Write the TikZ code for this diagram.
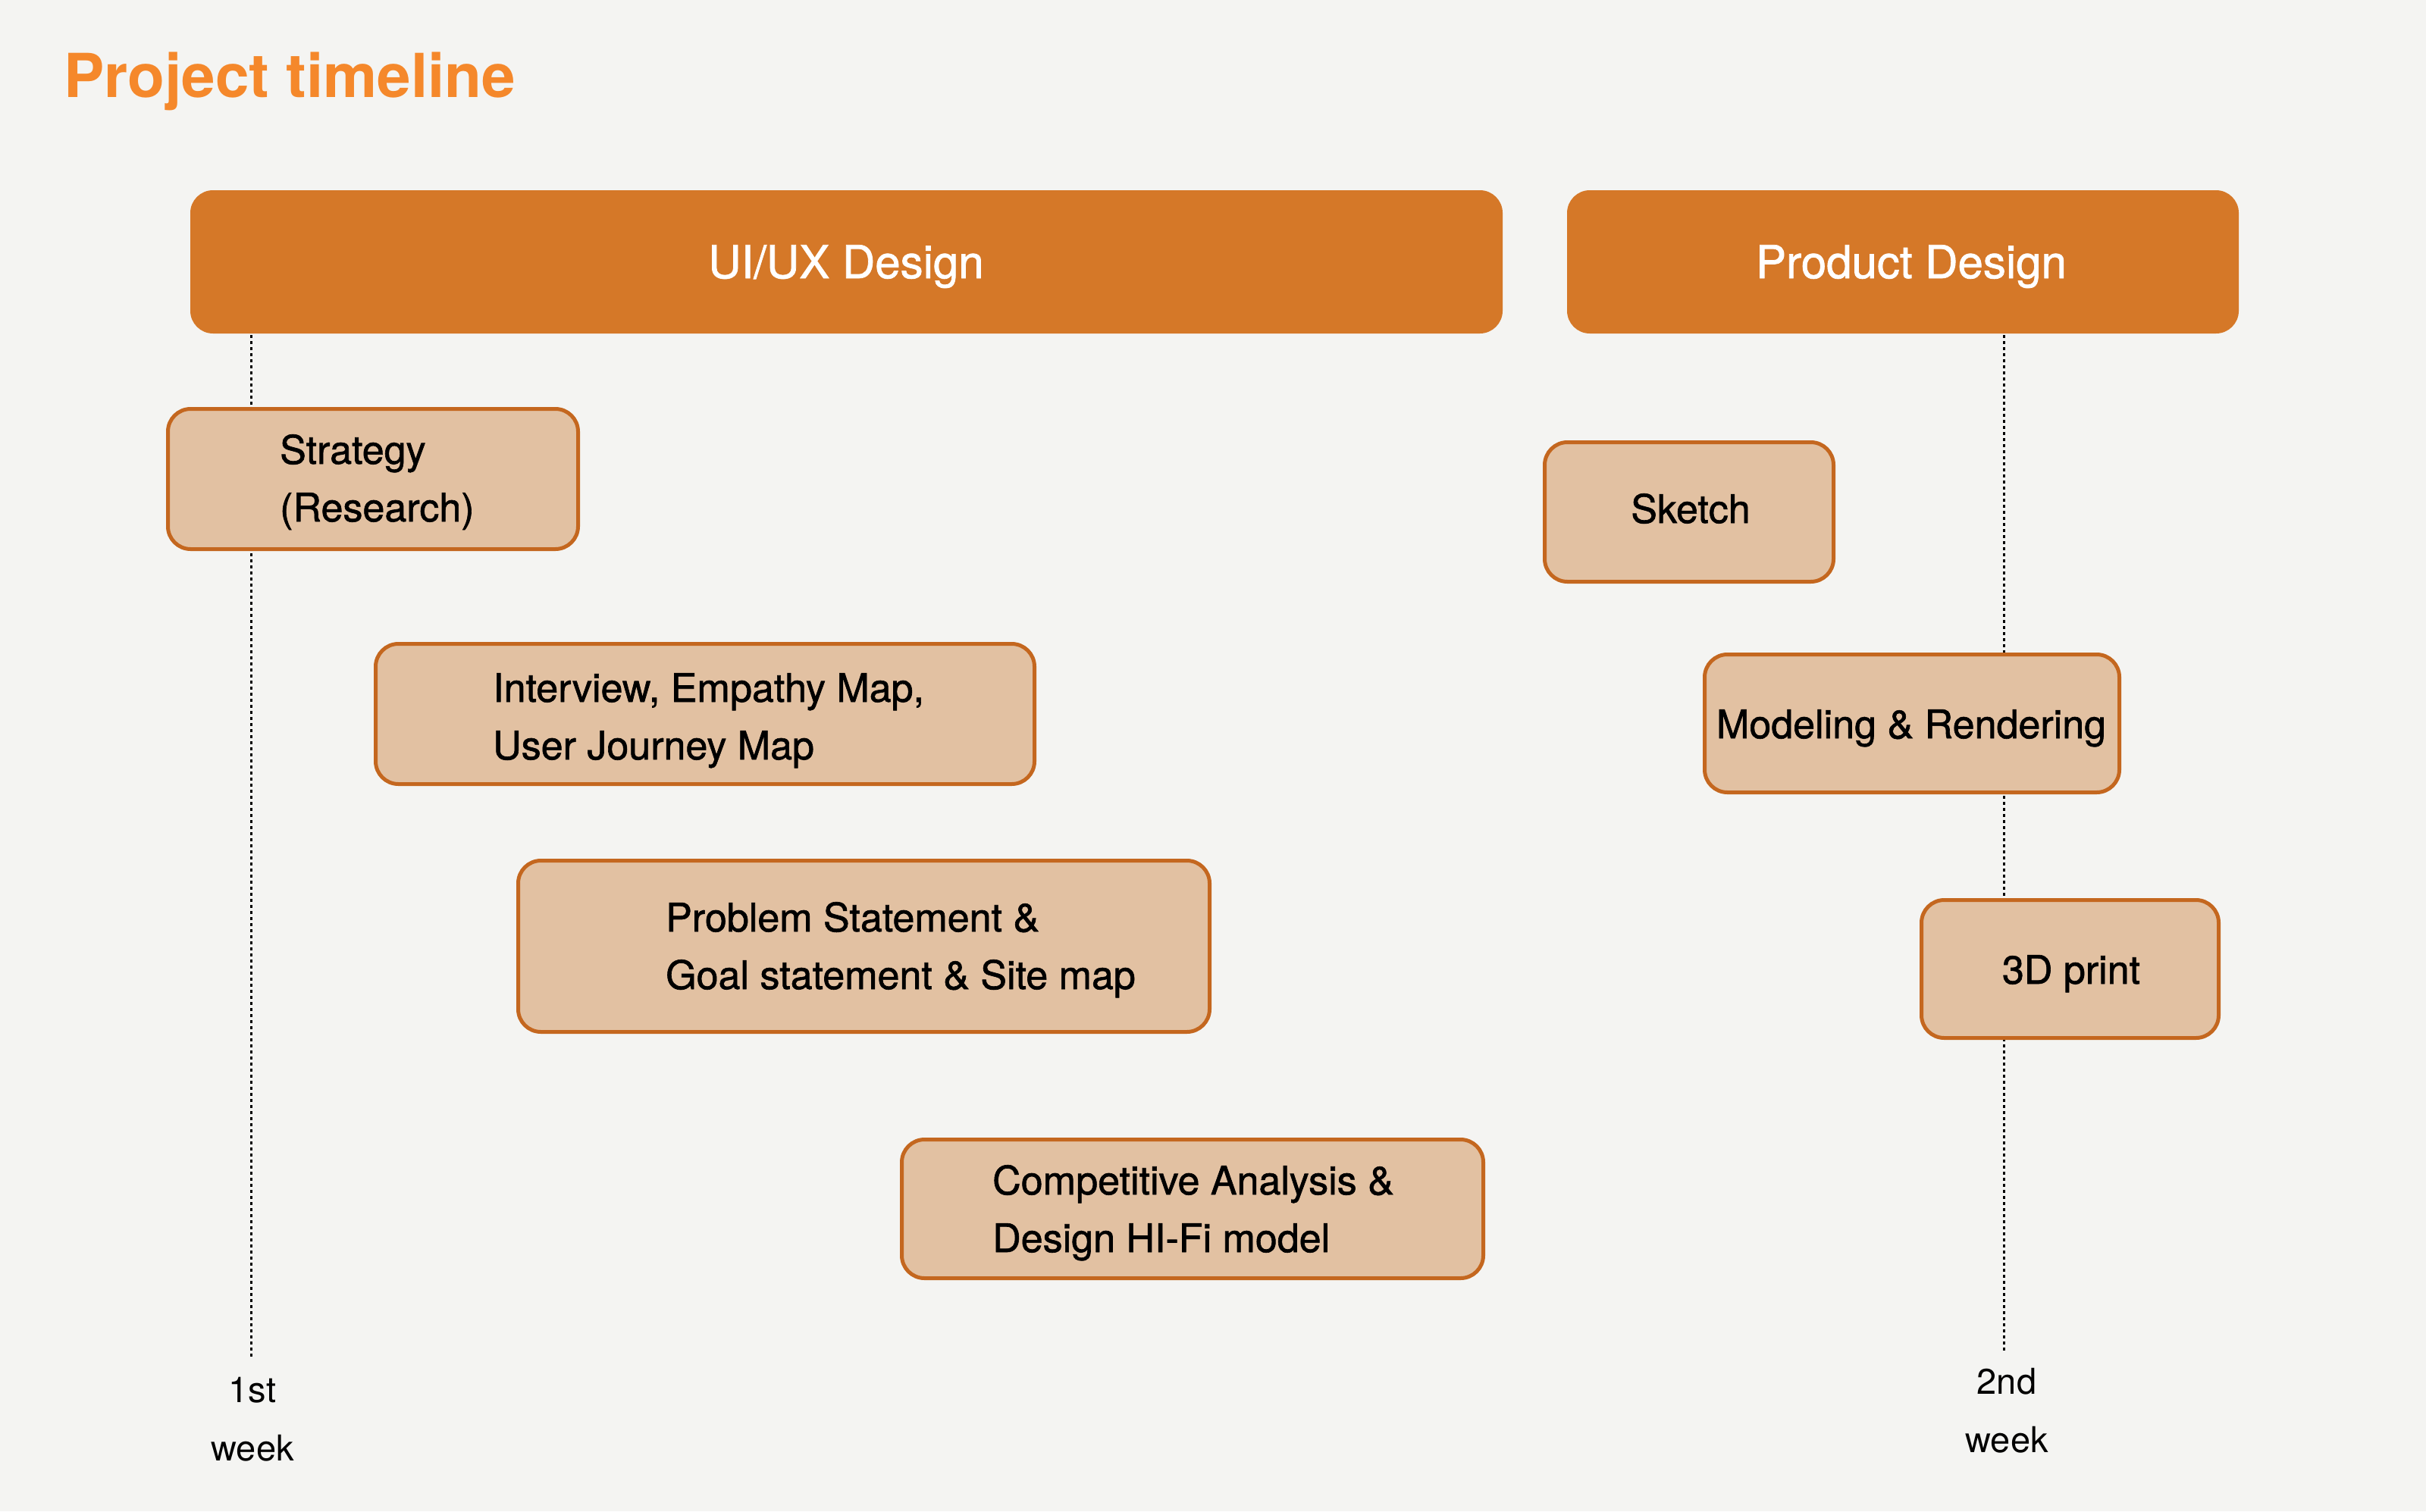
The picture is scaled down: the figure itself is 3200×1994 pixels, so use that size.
\documentclass[tikz,border=0pt]{standalone}
\usepackage{fontspec}
\setmainfont{TeX Gyre Heros}
\newfontfamily\medfont{TeX Gyre Heros}[FakeBold=1.2]
\definecolor{bgc}{HTML}{F4F4F2}
\definecolor{titlec}{HTML}{F5882B}
\definecolor{headc}{HTML}{D57828}
\definecolor{taskfill}{HTML}{E2C1A2}
\definecolor{taskline}{HTML}{C4671F}
\begin{document}
\begin{tikzpicture}[x=1pt,y=-1pt,
  header/.style={fill=headc, rounded corners=30pt, inner sep=0pt},
  headtext/.style={anchor=base, inner sep=0pt, text=white, font=\medfont\fontsize{60}{70}\selectfont},
  task/.style={draw=taskline, fill=taskfill, line width=5pt, rounded corners=30pt, inner sep=0pt},
  tasktext/.style={align=left, inner sep=0pt, font=\medfont\fontsize{52}{76}\selectfont},
  weektext/.style={align=center, inner sep=0pt, font=\fontsize{47}{77}\selectfont},
  weekline/.style={line width=3pt, dash pattern=on 4pt off 4pt}]
\fill[bgc] (0,0) rectangle (3200,1994);
\useasboundingbox (0,0) rectangle (3200,1994);
% title
\node[anchor=base west, inner sep=0pt, text=titlec, font=\fontsize{80}{90}\selectfont\bfseries] (title) at (84,128) {Project timeline};
% headers
\node[header, minimum width=1731pt, minimum height=189pt] (uiux) at (1116.5,345.5) {};
\node[headtext] (uiuxT) at (1116,367) {UI/UX Design};
\node[header, minimum width=886pt, minimum height=189pt] (prod) at (2510,345.5) {};
\node[headtext] (prodT) at (2521,367) {Product Design};
% week lines
\coordinate (w1a) at (331,442);
\coordinate (w1b) at (331,1793);
\coordinate (w2a) at (2643,442);
\coordinate (w2b) at (2643,1783);
\draw[weekline] (w1a) -- (w1b);
\draw[weekline] (w2a) -- (w2b);
\node[weektext, anchor=base] (week1) at (333,1927) {1st\\week};
\node[weektext, anchor=base] (week2) at (2647,1916) {2nd\\week};
% UI/UX tasks
\node[task, minimum width=541pt, minimum height=185pt] (strategy) at (492,632) {};
\node[tasktext, anchor=base west] (strategyT) at (369,688) {Strategy\\(Research)};
\node[task, minimum width=869pt, minimum height=185pt] (interview) at (930,942) {};
\node[tasktext, anchor=base west] (interviewT) at (650,1002) {Interview, Empathy Map,\\User Journey Map};
\node[task, minimum width=912pt, minimum height=226pt] (problem) at (1139.5,1248.5) {};
\node[tasktext, anchor=base west] (problemT) at (878,1305) {Problem Statement \&\\Goal statement \& Site map};
\node[task, minimum width=767pt, minimum height=183pt] (compet) at (1573,1595) {};
\node[tasktext, anchor=base west] (competT) at (1309,1652) {Competitive Analysis \&\\Design HI-Fi model};
% Product tasks
\node[task, minimum width=381pt, minimum height=184pt] (sketch) at (2228,675.5) {};
\node[tasktext, anchor=base] (sketchT) at (2230,690) {Sketch};
\node[task, minimum width=547pt, minimum height=182pt] (model) at (2522,954.5) {};
\node[tasktext, anchor=base] (modelT) at (2521,974) {Modeling \& Rendering};
\node[task, minimum width=392pt, minimum height=182pt] (print) at (2730.5,1278.5) {};
\node[tasktext, anchor=base] (printT) at (2732,1298) {3D print};
\end{tikzpicture}
\end{document}
